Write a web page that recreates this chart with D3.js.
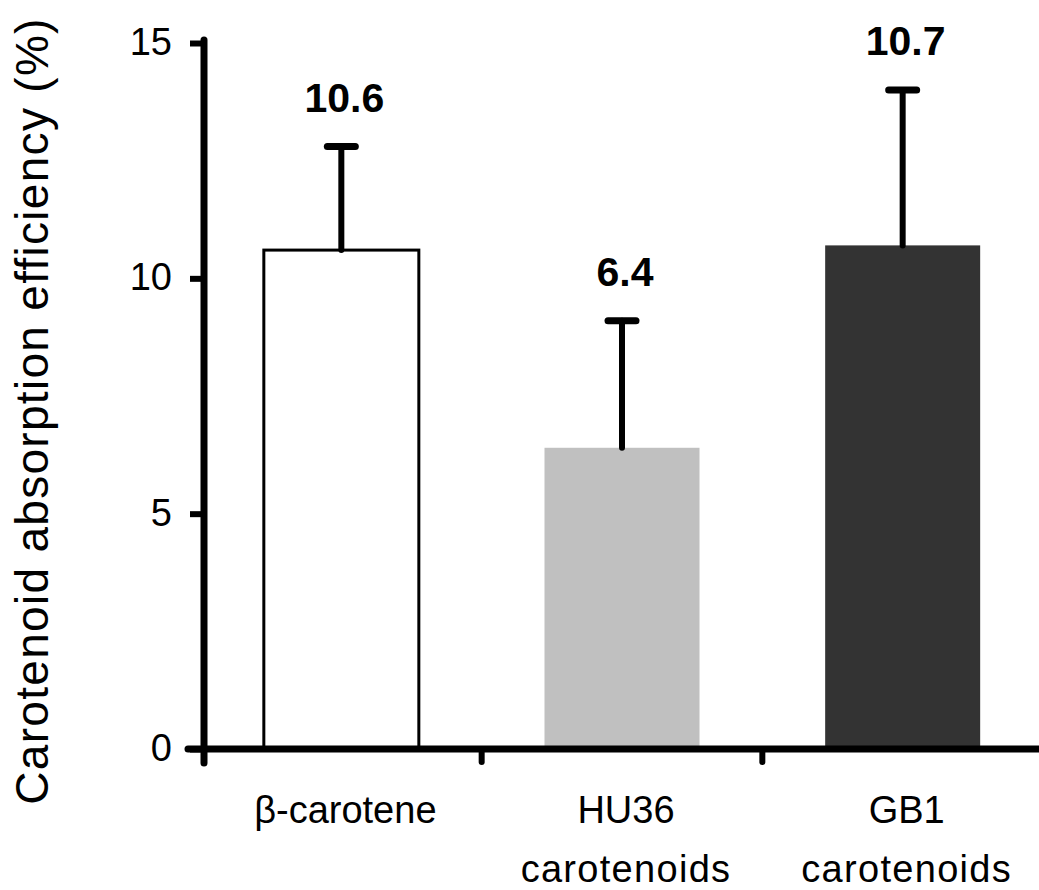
<!DOCTYPE html>
<html>
<head>
<meta charset="utf-8">
<script src="https://cdn.jsdelivr.net/npm/d3@7"></script>
<style>
  body { margin: 0; background: #fff; }
  text { font-family: Arial, "Liberation Sans", sans-serif; fill: #000; }
</style>
</head>
<body>
<div id="graf"></div>
<script>
// datos
categorias = ['β-carotene', 'HU36 carotenoids', 'GB1 carotenoids']
etiquetas = [['β-carotene'], ['HU36', 'carotenoids'], ['GB1', 'carotenoids']]
medias = [10.6, 6.4, 10.7]
errores = [2.2, 2.7, 3.3]
textoValor = ['10.6', '6.4', '10.7']
ticksY = [0, 5, 10, 15]
colores = ['#ffffff', '#c0c0c0', '#333333']

ancho_total = 1039
alto_total = 890

svg = d3.select('#graf').append('svg')
        .attr('width', ancho_total)
        .attr('height', alto_total)

// escaladores
x = d3.scaleBand().domain(categorias).range([201, 1043]).padding(0)
y = d3.scaleLinear().domain([0, 15]).range([749, 43])

ejeX = 204   // posicion del eje Y
anchoBarra = 155

// Eje Y
yAxisGroup = svg.append('g')
        .attr('transform', `translate(${ejeX}, 0)`)
        .call(d3.axisLeft(y).tickValues(ticksY).tickSize(14).tickPadding(18))

yAxisGroup.select('.domain').remove()
yAxisGroup.selectAll('.tick line')
        .attr('stroke', '#000')
        .attr('stroke-width', 6)
yAxisGroup.selectAll('.tick text')
        .style('font-size', '38px')
        .attr('dy', '0.3em')

svg.append('line')
        .attr('x1', ejeX).attr('x2', ejeX)
        .attr('y1', 40).attr('y2', 763)
        .attr('stroke', '#000')
        .attr('stroke-width', 7)
        .attr('stroke-linecap', 'round')

// Barras
svg.selectAll('.barra')
        .data(categorias)
        .enter()
        .append('rect')
        .attr('class', 'barra')
        .attr('x', d => x(d) + x.bandwidth() / 2 - anchoBarra / 2)
        .attr('width', anchoBarra)
        .attr('y', (d, i) => y(medias[i]))
        .attr('height', (d, i) => y(0) - y(medias[i]))
        .attr('fill', (d, i) => colores[i])
        .attr('stroke', (d, i) => i == 0 ? '#000' : 'none')
        .attr('stroke-width', 3)

// Barras de error
errG = svg.selectAll('.err')
        .data(categorias)
        .enter()
        .append('g')
        .attr('class', 'err')

errG.append('line')
        .attr('x1', d => x(d) + x.bandwidth() / 2)
        .attr('x2', d => x(d) + x.bandwidth() / 2)
        .attr('y1', (d, i) => y(medias[i]))
        .attr('y2', (d, i) => y(medias[i] + errores[i]))
        .attr('stroke', '#000')
        .attr('stroke-width', 6)
        .attr('stroke-linecap', 'round')

errG.append('line')
        .attr('x1', d => x(d) + x.bandwidth() / 2 - 14)
        .attr('x2', d => x(d) + x.bandwidth() / 2 + 14)
        .attr('y1', (d, i) => y(medias[i] + errores[i]))
        .attr('y2', (d, i) => y(medias[i] + errores[i]))
        .attr('stroke', '#000')
        .attr('stroke-width', 7)
        .attr('stroke-linecap', 'round')

// Valores
svg.selectAll('.valor')
        .data(categorias)
        .enter()
        .append('text')
        .attr('class', 'valor')
        .attr('x', d => x(d) + x.bandwidth() / 2 + 3)
        .attr('y', (d, i) => y(medias[i] + errores[i]) - 35)
        .attr('text-anchor', 'middle')
        .style('font-size', '41px')
        .style('font-weight', 'bold')
        .text((d, i) => textoValor[i])

// Eje X
svg.append('line')
        .attr('x1', 188).attr('x2', ancho_total)
        .attr('y1', y(0)).attr('y2', y(0))
        .attr('stroke', '#000')
        .attr('stroke-width', 7)
        .attr('stroke-linecap', 'round')

svg.selectAll('.xtick')
        .data(categorias.slice(0, -1))
        .enter()
        .append('line')
        .attr('class', 'xtick')
        .attr('x1', d => x(d) + x.step())
        .attr('x2', d => x(d) + x.step())
        .attr('y1', y(0))
        .attr('y2', y(0) + 13)
        .attr('stroke', '#000')
        .attr('stroke-width', 6)
        .attr('stroke-linecap', 'round')

xLabels = svg.selectAll('.xlab')
        .data(categorias)
        .enter()
        .append('text')
        .attr('class', 'xlab')
        .attr('text-anchor', 'middle')
        .style('font-size', '38px')
        .attr('transform', d => `translate(${x(d) + x.bandwidth() / 2 + 4}, 823)`)

xLabels.each(function (d, i) {
        etiquetas[i].forEach((linea, j) => {
                d3.select(this).append('tspan')
                        .attr('x', 0)
                        .attr('y', j * 59)
                        .style('letter-spacing', j > 0 ? '1.3px' : '0px')
                        .text(linea)
        })
})

// Titulo eje Y
svg.append('text')
        .attr('transform', 'translate(48, 411) rotate(-90)')
        .attr('text-anchor', 'middle')
        .style('font-size', '46px')
        .style('letter-spacing', '1.3px')
        .text('Carotenoid absorption efficiency (%)')
</script>
</body>
</html>
